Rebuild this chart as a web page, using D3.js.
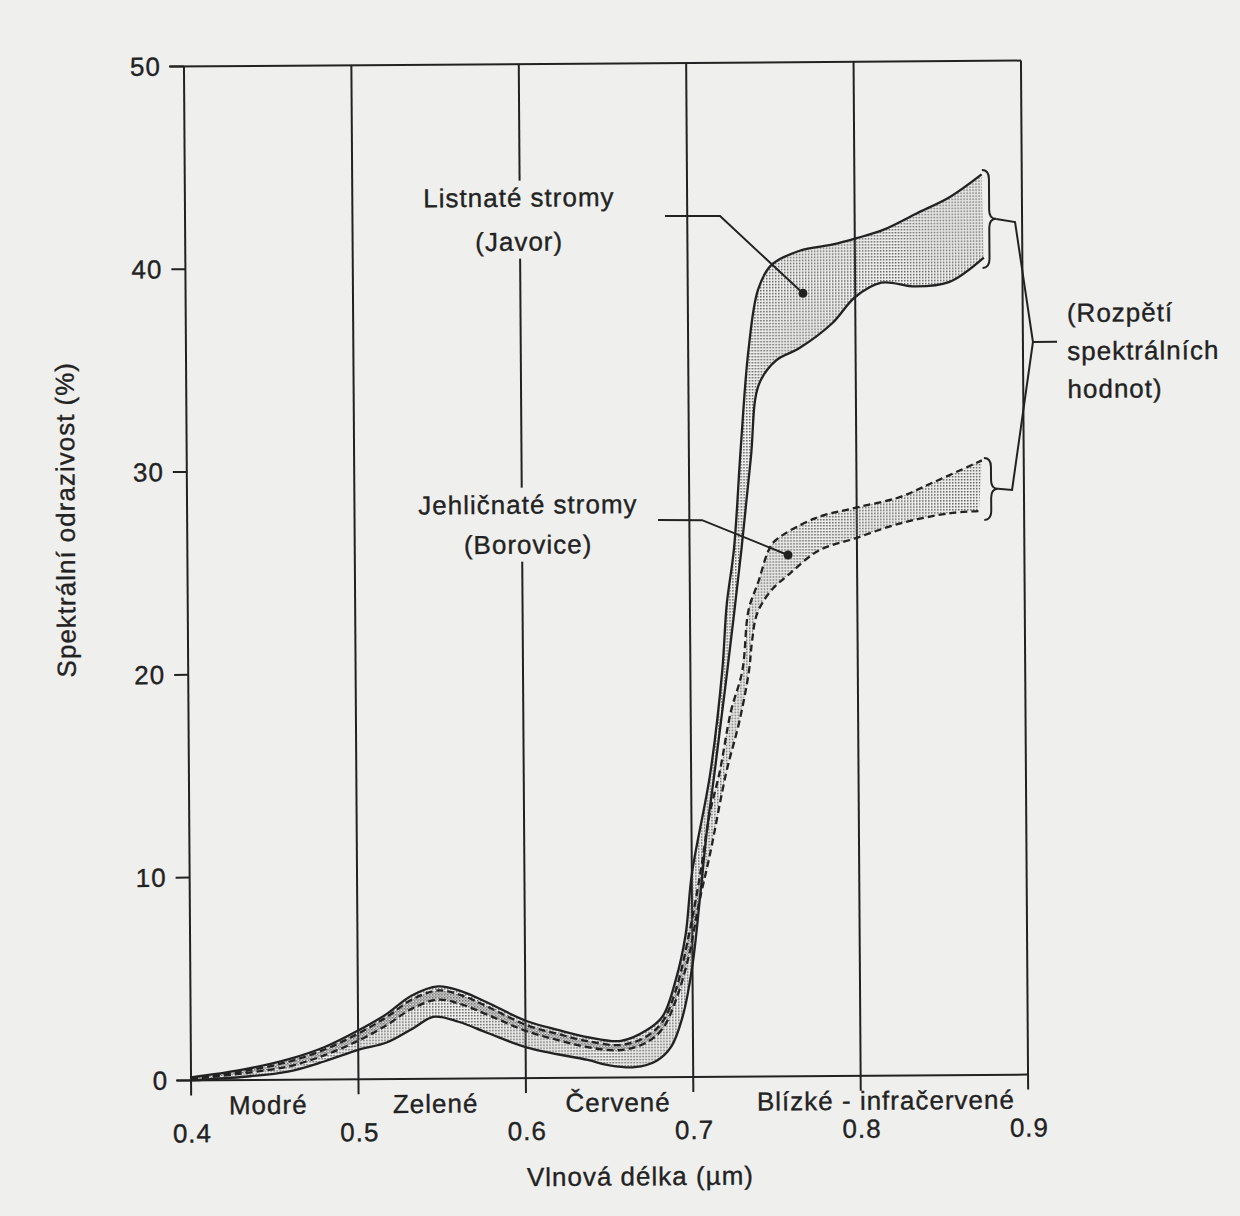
<!DOCTYPE html>
<html>
<head>
<meta charset="utf-8">
<script src="https://cdn.jsdelivr.net/npm/d3@7/dist/d3.min.js"></script>
<style>
  html, body { margin: 0; padding: 0; background: #efefed; }
  svg { display: block; }
  text {
    font-family: 'Liberation Sans', Arial, sans-serif;
    font-size: 26px;
    letter-spacing: 1px;
    fill: #222;
    stroke: #222;
    stroke-width: 0.35px;
  }
</style>
</head>
<body>
<svg id="chart" width="1240" height="1216"></svg>
<script>
const wavelengthTicks = [0.4, 0.5, 0.6, 0.7, 0.8, 0.9];
const reflectanceTicks = [0, 10, 20, 30, 40, 50];
const bandNames = ['Modré', 'Zelené', 'Červené', 'Blízké - infračervené'];
const bandCenters = [0.446, 0.546, 0.655, 0.815];

// deciduous (Javor) – solid outline, [wavelength µm, reflectance %]
const javorHigh = [
  [0.400, 0.15], [0.430, 0.5], [0.458, 1.0], [0.480, 1.6], [0.500, 2.4], [0.517, 3.2],
  [0.532, 4.1], [0.548, 4.55], [0.562, 4.3], [0.577, 3.75], [0.601, 2.8], [0.620, 2.35],
  [0.637, 2.0], [0.657, 1.8], [0.672, 2.3], [0.682, 3.0], [0.690, 4.8], [0.696, 7.0],
  [0.700, 10.0], [0.7115, 15.0], [0.719, 20.0], [0.722, 23.3], [0.7265, 26.0], [0.731, 31.0],
  [0.736, 35.8], [0.742, 38.8], [0.750, 40.0], [0.767, 40.7], [0.787, 41.0], [0.801, 41.3],
  [0.817, 41.7], [0.837, 42.5], [0.857, 43.3], [0.876, 44.4]
];
const javorLow = [
  [0.400, 0.0], [0.430, 0.15], [0.458, 0.4], [0.480, 0.9], [0.500, 1.45], [0.517, 1.8],
  [0.533, 2.5], [0.545, 3.05], [0.560, 2.8], [0.577, 2.25], [0.601, 1.5], [0.637, 0.87],
  [0.650, 0.6], [0.665, 0.5], [0.678, 0.8], [0.687, 1.5], [0.694, 3.0], [0.700, 5.5],
  [0.705, 9.0], [0.709, 12.0], [0.714, 15.0], [0.722, 20.0], [0.731, 26.0], [0.737, 30.5],
  [0.742, 34.1], [0.7525, 35.3], [0.7665, 35.9], [0.786, 37.1], [0.800, 38.4], [0.8157, 39.1],
  [0.836, 38.9], [0.856, 39.1], [0.877, 40.3]
];

// coniferous (Borovice) – dashed outline
const borovHigh = [
  [0.400, 0.1], [0.430, 0.42], [0.458, 0.88], [0.480, 1.48], [0.500, 2.25], [0.517, 3.05],
  [0.532, 3.9], [0.548, 4.35], [0.562, 4.1], [0.577, 3.55], [0.601, 2.6], [0.620, 2.15],
  [0.637, 1.8], [0.657, 1.6], [0.672, 2.0], [0.682, 2.75], [0.690, 4.3], [0.698, 7.0],
  [0.705, 10.0], [0.711, 13.0], [0.717, 15.0], [0.724, 18.0], [0.731, 20.0], [0.735, 23.0],
  [0.741, 24.4], [0.747, 25.9], [0.751, 26.4], [0.775, 27.5], [0.799, 28.0], [0.825, 28.5],
  [0.845, 29.2], [0.875, 30.3]
];
const borovLow = [
  [0.400, 0.05], [0.430, 0.32], [0.458, 0.65], [0.480, 1.2], [0.500, 1.9], [0.517, 2.65],
  [0.532, 3.45], [0.548, 3.9], [0.562, 3.65], [0.577, 3.15], [0.601, 2.3], [0.620, 1.85],
  [0.637, 1.5], [0.657, 1.35], [0.672, 1.7], [0.682, 2.4], [0.690, 3.8], [0.698, 6.0],
  [0.704, 8.5], [0.711, 11.0], [0.721, 15.0], [0.729, 17.5], [0.735, 20.0], [0.737, 21.5],
  [0.740, 22.8], [0.748, 23.9], [0.760, 24.8], [0.777, 25.9], [0.799, 26.5], [0.825, 27.2],
  [0.855, 27.7], [0.873, 27.8]
];

const javorLabel = ['Listnaté stromy', '(Javor)'];
const borovLabel = ['Jehličnaté stromy', '(Borovice)'];
const rangeLabel = ['(Rozpětí', 'spektrálních', 'hodnot)'];
const xTitle = 'Vlnová délka (µm)';
const yTitle = 'Spektrální odrazivost (%)';

const paper = '#efefed';
const ink = '#222';

const svg = d3.select('#chart');
svg.append('rect').attr('width', 1240).attr('height', 1216).attr('fill', paper);

// the scanned page is turned a little, so is the drawing
const g = svg.append('g').attr('transform', 'rotate(-0.4, 606, 570)');

const x = d3.scaleLinear().domain([0.4, 0.9]).range([187.5, 1024.5]);
const y = d3.scaleLinear().domain([0, 50]).range([1077.5, 63.5]);

const defs = svg.append('defs');
[['dotsA', 0], ['dotsB', 1.5]].forEach(function (p) {
  defs.append('pattern')
    .attr('id', p[0])
    .attr('width', 3)
    .attr('height', 3)
    .attr('x', p[1])
    .attr('y', p[1])
    .attr('patternUnits', 'userSpaceOnUse')
    .append('rect')
    .attr('width', 1.5)
    .attr('height', 1.5)
    .attr('fill', '#5e5e5e');
});

// frame: vertical wavelength lines, top and bottom lines, reflectance ticks
g.selectAll('.vline')
  .data(wavelengthTicks)
  .join('line')
  .attr('class', 'vline')
  .attr('x1', function (d) { return x(d); })
  .attr('x2', function (d) { return x(d); })
  .attr('y1', y(50))
  .attr('y2', y(0) + 15)
  .attr('stroke', ink)
  .attr('stroke-width', 2);

g.selectAll('.hline')
  .data([0, 50])
  .join('line')
  .attr('class', 'hline')
  .attr('x1', x(0.4) - 15)
  .attr('x2', x(0.9))
  .attr('y1', function (d) { return y(d); })
  .attr('y2', function (d) { return y(d); })
  .attr('stroke', ink)
  .attr('stroke-width', 2);

g.selectAll('.ytick')
  .data(reflectanceTicks)
  .join('line')
  .attr('class', 'ytick')
  .attr('x1', x(0.4) - 14)
  .attr('x2', x(0.4))
  .attr('y1', function (d) { return y(d); })
  .attr('y2', function (d) { return y(d); })
  .attr('stroke', ink)
  .attr('stroke-width', 2);

g.selectAll('.ylabel')
  .data(reflectanceTicks)
  .join('text')
  .attr('class', 'ylabel')
  .attr('x', x(0.4) - 23)
  .attr('y', function (d) { return y(d) + 9; })
  .attr('text-anchor', 'end')
  .text(function (d) { return d; });

g.selectAll('.xlabel')
  .data(wavelengthTicks)
  .join('text')
  .attr('class', 'xlabel')
  .attr('x', function (d) { return x(d) + 1; })
  .attr('y', y(0) + 62)
  .attr('text-anchor', 'middle')
  .text(function (d) { return d.toFixed(1); });

g.selectAll('.band')
  .data(bandNames)
  .join('text')
  .attr('class', 'band')
  .attr('x', function (d, i) { return x(bandCenters[i]); })
  .attr('y', y(0) + 34)
  .attr('text-anchor', 'middle')
  .text(function (d) { return d; });

g.append('text')
  .attr('x', x(0.668))
  .attr('y', y(0) + 108)
  .attr('text-anchor', 'middle')
  .text(xTitle);

g.append('text')
  .attr('transform', 'translate(75,516) rotate(-90)')
  .attr('text-anchor', 'middle')
  .text(yTitle);

// reflectance bands
const curve = d3.line()
  .x(function (d) { return x(d[0]); })
  .y(function (d) { return y(d[1]); })
  .curve(d3.curveCatmullRom.alpha(0.5));

function bandPath(high, low) {
  const top = curve(high);
  const bottom = curve(low.slice().reverse());
  return top + 'L' + bottom.slice(1) + 'Z';
}

g.append('path').attr('d', bandPath(javorHigh, javorLow)).attr('fill', 'url(#dotsA)');
g.append('path').attr('d', bandPath(borovHigh, borovLow)).attr('fill', 'url(#dotsB)');

[borovHigh, borovLow].forEach(function (s) {
  g.append('path')
    .attr('d', curve(s))
    .attr('fill', 'none')
    .attr('stroke', ink)
    .attr('stroke-width', 2.3)
    .attr('stroke-dasharray', '7,4');
});

[javorHigh, javorLow].forEach(function (s) {
  g.append('path')
    .attr('d', curve(s))
    .attr('fill', 'none')
    .attr('stroke', ink)
    .attr('stroke-width', 2.3);
});

// labels with a paper-coloured patch under them, so the grid line breaks
function labelBlock(lines, cx, baselines, anchor) {
  const block = g.append('g');
  const mask = block.append('rect').attr('fill', paper);
  lines.forEach(function (t, i) {
    block.append('text')
      .attr('x', cx)
      .attr('y', baselines[i])
      .attr('text-anchor', anchor)
      .text(t);
  });
  const bb = block.node().getBBox();
  mask.attr('x', bb.x - 4).attr('y', bb.y - 2).attr('width', bb.width + 8).attr('height', bb.height + 4);
}

labelBlock(javorLabel, x(0.5995), [y(42.97), y(40.8)], 'middle');
labelBlock(borovLabel, x(0.6036), [y(27.83), y(25.86)], 'middle');
labelBlock(rangeLabel, x(0.9264), [y(37.1), y(35.22), y(33.35)], 'start');

// leader lines to the bands
function leader(pts) {
  g.append('path')
    .attr('d', d3.line()(pts.map(function (p) { return [x(p[0]), y(p[1])]; })))
    .attr('fill', 'none')
    .attr('stroke', ink)
    .attr('stroke-width', 2);
  const end = pts[pts.length - 1];
  g.append('circle').attr('cx', x(end[0])).attr('cy', y(end[1])).attr('r', 4.5).attr('fill', ink);
}

leader([[0.6867, 42.46], [0.7196, 42.44], [0.7688, 38.6]]);
leader([[0.6813, 27.47], [0.7076, 27.45], [0.7588, 25.7]]);

// braces at the ends of the bands and the bracket joining them
function bracePath(bx, yTop, yBot, w) {
  const h = w / 2;
  const ym = (yTop + yBot) / 2;
  const r = Math.min(9, (yBot - yTop) / 4);
  return 'M' + bx + ',' + yTop +
    ' Q' + (bx + h) + ',' + yTop + ' ' + (bx + h) + ',' + (yTop + r) +
    ' L' + (bx + h) + ',' + (ym - r) +
    ' Q' + (bx + h) + ',' + ym + ' ' + (bx + w) + ',' + ym +
    ' Q' + (bx + h) + ',' + ym + ' ' + (bx + h) + ',' + (ym + r) +
    ' L' + (bx + h) + ',' + (yBot - r) +
    ' Q' + (bx + h) + ',' + yBot + ' ' + bx + ',' + yBot;
}

[[44.62, 39.79], [30.42, 27.36]].forEach(function (b) {
  g.append('path')
    .attr('d', bracePath(x(0.8762), y(b[0]), y(b[1]), 14))
    .attr('fill', 'none')
    .attr('stroke', ink)
    .attr('stroke-width', 2);
});

g.append('path')
  .attr('d', d3.line()([
    [x(0.8762) + 14, y(42.2)], [x(0.8958), y(42.04)], [x(0.906), y(36.12)],
    [x(0.8929), y(28.83)], [x(0.8762) + 14, y(28.89)]
  ]))
  .attr('fill', 'none')
  .attr('stroke', ink)
  .attr('stroke-width', 2);

g.append('line')
  .attr('x1', x(0.906))
  .attr('x2', x(0.9204))
  .attr('y1', y(36.12))
  .attr('y2', y(36.12))
  .attr('stroke', ink)
  .attr('stroke-width', 2);
</script>
</body>
</html>
